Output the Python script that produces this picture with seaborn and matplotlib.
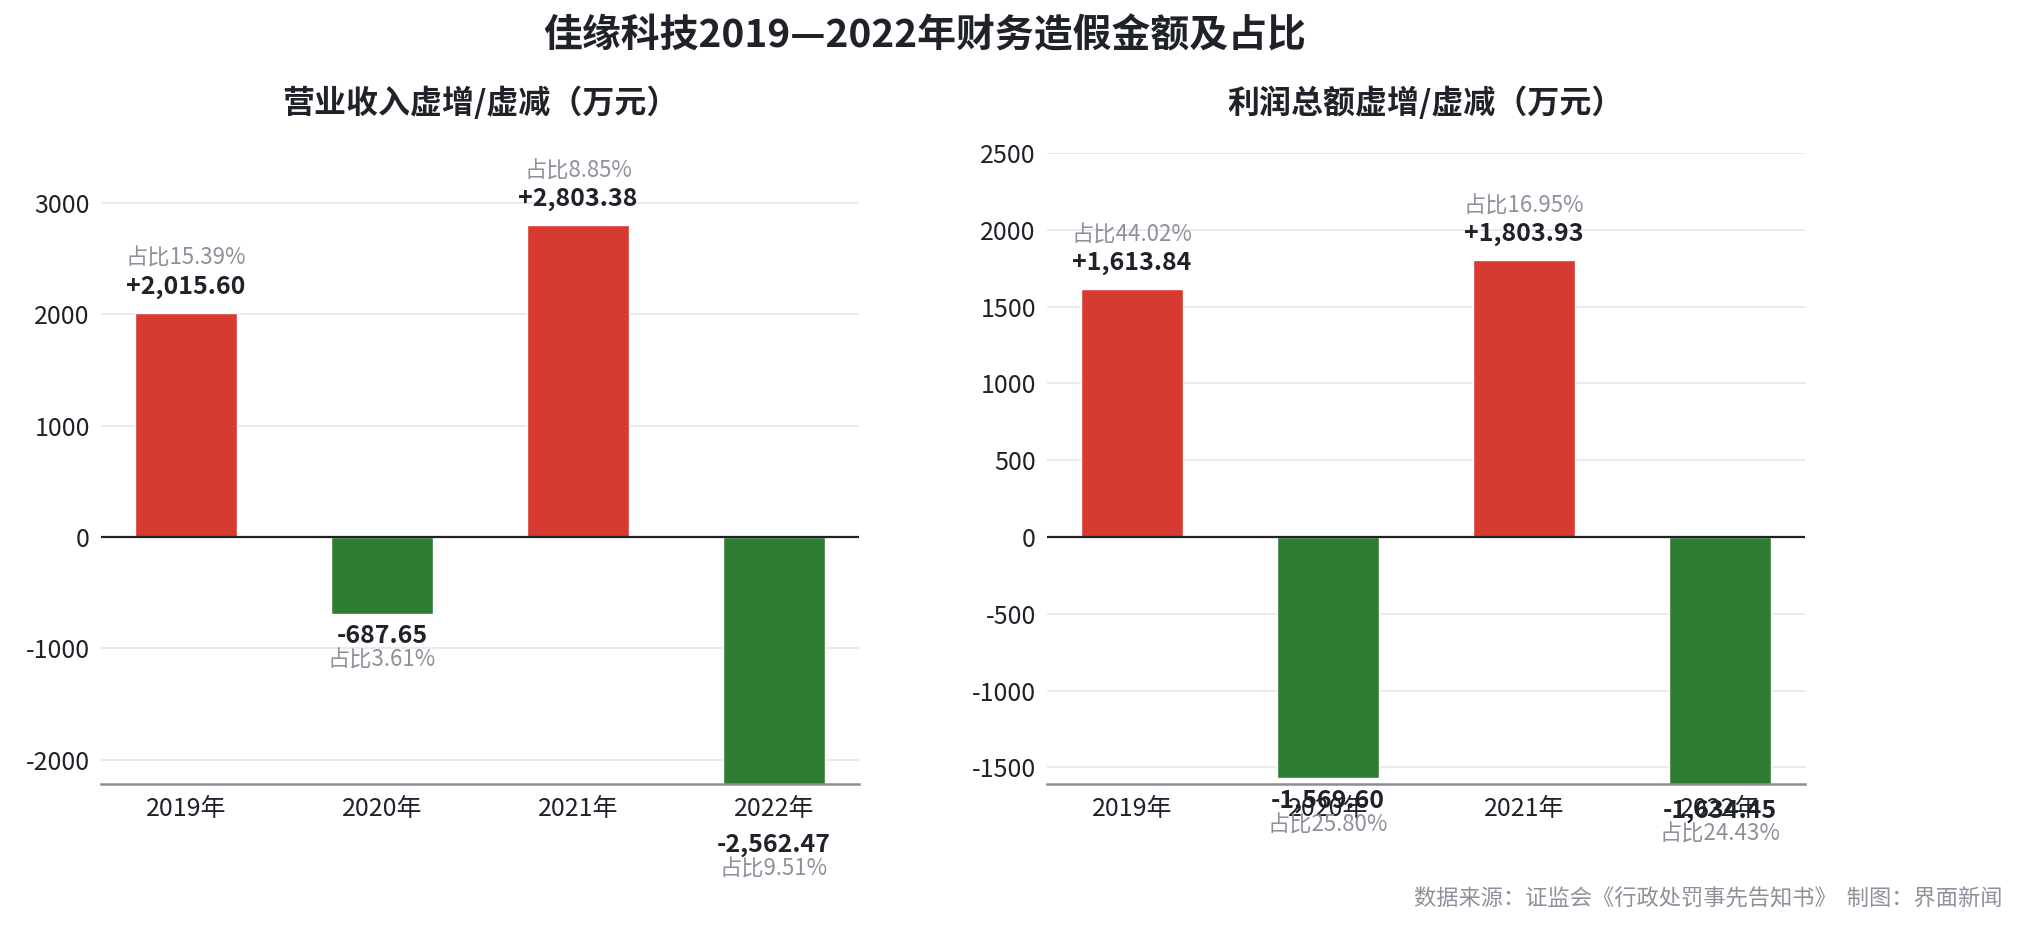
import matplotlib
matplotlib.use("Agg")
import matplotlib.pyplot as plt
import seaborn as sns

# ---- data ----
years = ['2019年', '2020年', '2021年', '2022年']
revenue = [2015.60, -687.65, 2803.38, -2562.47]
revenue_pct = ['15.39%', '3.61%', '8.85%', '9.51%']
profit = [1613.84, -1569.60, 1803.93, -1634.45]
profit_pct = ['44.02%', '25.80%', '16.95%', '24.43%']

title = '佳缘科技2019—2022年财务造假金额及占比'
sub_left = '营业收入虚增/虚减（万元）'
sub_right = '利润总额虚增/虚减（万元）'
footer = '数据来源：证监会《行政处罚事先告知书》  制图：界面新闻'

RED = '#D63A30'
GREEN = '#2E7D32'
DARK = '#1f2329'
GRAY = '#8e919b'
GRID = '#e6e6eb'
AXIS = '#8a8e99'

sns.set_theme(style='white')
plt.rcParams['font.family'] = ['Noto Sans CJK SC', 'DejaVu Sans']
plt.rcParams['axes.unicode_minus'] = False

W, H, DPI = 2023, 936, 100
fig = plt.figure(figsize=(W / DPI, H / DPI), dpi=DPI)

ax_bottom = 1 - 784 / H
ax_h = 631 / H
ax_w = 758 / W
axL = fig.add_axes([101 / W, ax_bottom, ax_w, ax_h])
axR = fig.add_axes([1047 / W, ax_bottom, ax_w, ax_h])


def draw(ax, vals, pcts, ylim, yticks, subtitle):
    colors = [RED if v >= 0 else GREEN for v in vals]
    sns.barplot(x=years, y=vals, hue=years, palette=colors, width=0.52,
                saturation=1, legend=False, ax=ax, zorder=2)
    ax.set_xlim(-0.434, 3.434)
    ax.set_ylim(*ylim)
    ax.set_yticks(yticks)
    ax.set_yticklabels([f'{t:d}' for t in yticks])
    ax.yaxis.grid(True, color=GRID, lw=1.2, zorder=0)
    ax.xaxis.grid(False)
    ax.set_axisbelow(True)
    for s in ['top', 'right', 'left']:
        ax.spines[s].set_visible(False)
    ax.spines['bottom'].set_color(AXIS)
    ax.spines['bottom'].set_linewidth(1.8)
    ax.spines['bottom'].set_zorder(4)
    ax.axhline(0, color='#222222', lw=1.6, zorder=3)
    ax.tick_params(axis='both', length=0, labelsize=18, labelcolor=DARK)
    ax.tick_params(axis='y', pad=8)
    ax.tick_params(axis='x', pad=9)
    ax.set_xlabel('')
    ax.set_ylabel('')
    ax.set_title(subtitle, fontsize=23, fontweight='bold', color=DARK, pad=29)
    for i, (v, p) in enumerate(zip(vals, pcts)):
        if v >= 0:
            off_v, off_p = 18.5, 39
        else:
            off_v, off_p = -16.5, -33.5
        ax.annotate(f'{v:+,.2f}', xy=(i, v), xytext=(0, off_v),
                    textcoords='offset points', ha='center', va='center',
                    fontsize=18, fontweight='bold', color=DARK,
                    annotation_clip=False, zorder=5)
        ax.annotate('占比' + p, xy=(i, v), xytext=(0, off_p),
                    textcoords='offset points', ha='center', va='center',
                    fontsize=16, color=GRAY, annotation_clip=False, zorder=5)


draw(axL, revenue, revenue_pct, (-2219, 3450), [-2000, -1000, 0, 1000, 2000, 3000], sub_left)
draw(axR, profit, profit_pct, (-1608, 2500), [-1500, -1000, -500, 0, 500, 1000, 1500, 2000, 2500], sub_right)

fig.text(0.457, 1 - 36 / H, title, ha='center', va='center', fontsize=28,
         fontweight='bold', color=DARK)
fig.text(0.990, 1 - 899 / H, footer, ha='right', va='center', fontsize=16, color=GRAY)

fig.savefig('out.png', dpi=DPI, facecolor='white')
